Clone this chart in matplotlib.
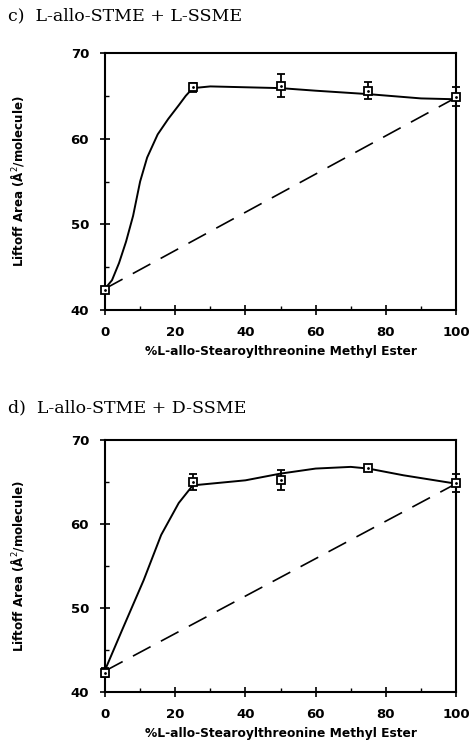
# liftoff area vs composition, two panels
import matplotlib.pyplot as plt
from matplotlib.ticker import MultipleLocator

x_pts = [0, 25, 50, 75, 100]

# panel c) L-allo-STME + L-SSME
c_y = [42.4, 66.0, 66.2, 65.6, 64.9]
c_err = [0.3, 0.5, 1.3, 1.0, 1.1]
c_curve_x = [0, 2, 4, 6, 8, 10, 12, 15, 18, 21, 23, 25, 30, 40, 50, 60, 75, 90, 100]
c_curve_y = [42.5, 43.5, 45.5, 48.0, 51.0, 55.0, 57.8, 60.5, 62.3, 63.9, 65.0, 65.9,
             66.1, 66.0, 65.9, 65.6, 65.2, 64.7, 64.6]

# panel d) L-allo-STME + D-SSME
d_y = [42.3, 65.0, 65.2, 66.7, 64.9]
d_err = [0.5, 1.0, 1.2, 0.3, 1.1]
d_curve_x = [0, 5, 11, 16, 21, 25, 30, 40, 50, 60, 70, 75, 85, 100]
d_curve_y = [42.6, 47.5, 53.3, 58.7, 62.5, 64.6, 64.8, 65.2, 66.0, 66.6, 66.8, 66.6, 65.8, 64.8]

ideal_x = [0, 100]
ideal_c = [42.5, 64.8]
ideal_d = [42.5, 64.8]

titles = ["c)  L-allo-STME + L-SSME", "d)  L-allo-STME + D-SSME"]
xlabel = "%L-allo-Stearoylthreonine Methyl Ester"
ylabel = "Liftoff Area (Å$^2$/molecule)"

fig = plt.figure(figsize=(4.70, 7.42), dpi=100)
boxes = [[0.2234, 0.582, 0.747, 0.3466], [0.2234, 0.0674, 0.747, 0.3396]]
title_y = [0.978, 0.450]

panels = [(c_y, c_err, c_curve_x, c_curve_y, ideal_c),
          (d_y, d_err, d_curve_x, d_curve_y, ideal_d)]

for i, (ys, errs, cx, cy, ideal) in enumerate(panels):
    ax = fig.add_axes(boxes[i])
    ax.plot(cx, cy, color='black', lw=1.4)
    ax.plot(ideal_x, ideal, color='black', lw=1.2, dashes=(12, 7))
    ax.errorbar(x_pts, ys, yerr=errs, fmt='s', ms=6, mfc='white', mec='black',
                mew=1.3, ecolor='black', elinewidth=1.3, capsize=3, capthick=1.5,
                clip_on=False, zorder=5)
    ax.plot(x_pts, ys, '.', color='black', ms=2, clip_on=False, zorder=6)
    ax.set_xlim(0, 100)
    ax.set_ylim(40, 70)
    ax.xaxis.set_major_locator(MultipleLocator(20))
    ax.xaxis.set_minor_locator(MultipleLocator(10))
    ax.yaxis.set_major_locator(MultipleLocator(10))
    ax.yaxis.set_minor_locator(MultipleLocator(5))
    ax.tick_params(which='major', direction='inout', length=7, width=1.2,
                   labelsize=9.5, pad=8)
    ax.tick_params(which='minor', direction='in', length=3, width=1)
    for lab in ax.get_xticklabels() + ax.get_yticklabels():
        lab.set_fontweight('bold')
    for s in ax.spines.values():
        s.set_linewidth(1.5)
    ax.set_xlabel(xlabel, fontsize=8.8, fontweight='bold', labelpad=4)
    ax.set_ylabel(ylabel, fontsize=8.6, fontweight='bold', labelpad=32)
    fig.text(0.017, title_y[i], titles[i], family='DejaVu Serif', fontsize=12.5,
             va='center', ha='left')

fig.savefig('out.png', dpi=100)
